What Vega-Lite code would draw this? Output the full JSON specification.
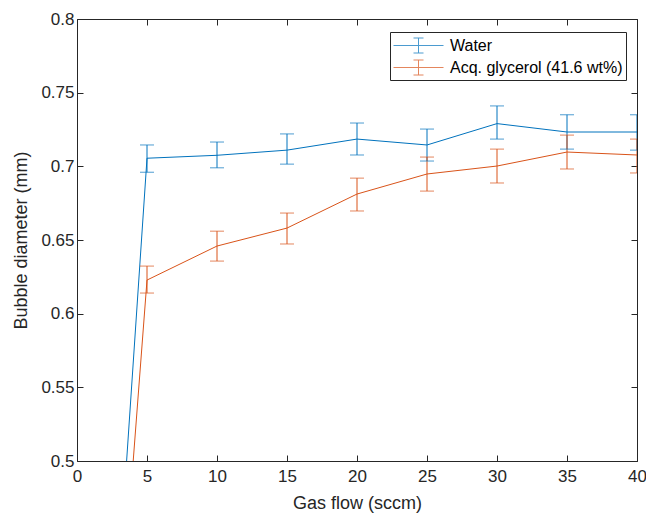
{
  "$schema": "https://vega.github.io/schema/vega-lite/v6.json",
  "width": 560,
  "height": 442,
  "autosize": {"type": "none"},
  "padding": {"left": 77, "top": 19, "right": 9, "bottom": 54},
  "background": "white",
  "config": {
    "font": "Liberation Sans",
    "view": {"stroke": null},
    "axis": {
      "grid": false,
      "domainColor": "#262626",
      "tickColor": "#262626",
      "labelColor": "#262626",
      "titleColor": "#262626",
      "labelFontSize": 17,
      "titleFontSize": 18,
      "titleFontWeight": "normal",
      "tickSize": -6,
      "labelFlush": false
    }
  },
  "resolve": {"axis": {"x": "independent", "y": "independent"}},
  "data": {
    "values": [
      {"series": "Water", "x": 0, "y": 0, "lo": 0, "hi": 0},
      {"series": "Water", "x": 5, "y": 0.7055, "lo": 0.696, "hi": 0.7145},
      {"series": "Water", "x": 10, "y": 0.7075, "lo": 0.699, "hi": 0.7165},
      {"series": "Water", "x": 15, "y": 0.711, "lo": 0.7015, "hi": 0.722},
      {"series": "Water", "x": 20, "y": 0.7185, "lo": 0.7077, "hi": 0.7294},
      {"series": "Water", "x": 25, "y": 0.7145, "lo": 0.7036, "hi": 0.7253},
      {"series": "Water", "x": 30, "y": 0.729, "lo": 0.7185, "hi": 0.741},
      {"series": "Water", "x": 35, "y": 0.7233, "lo": 0.7117, "hi": 0.735},
      {"series": "Water", "x": 40, "y": 0.7233, "lo": 0.711, "hi": 0.735},
      {"series": "Acq. glycerol (41.6 wt%)", "x": 0, "y": 0, "lo": 0, "hi": 0},
      {"series": "Acq. glycerol (41.6 wt%)", "x": 5, "y": 0.6228, "lo": 0.614, "hi": 0.6323},
      {"series": "Acq. glycerol (41.6 wt%)", "x": 10, "y": 0.6459, "lo": 0.6357, "hi": 0.656},
      {"series": "Acq. glycerol (41.6 wt%)", "x": 15, "y": 0.6581, "lo": 0.6473, "hi": 0.6683},
      {"series": "Acq. glycerol (41.6 wt%)", "x": 20, "y": 0.6812, "lo": 0.6697, "hi": 0.692},
      {"series": "Acq. glycerol (41.6 wt%)", "x": 25, "y": 0.6948, "lo": 0.6832, "hi": 0.7063},
      {"series": "Acq. glycerol (41.6 wt%)", "x": 30, "y": 0.7002, "lo": 0.6887, "hi": 0.7117},
      {"series": "Acq. glycerol (41.6 wt%)", "x": 35, "y": 0.7097, "lo": 0.6982, "hi": 0.7212},
      {"series": "Acq. glycerol (41.6 wt%)", "x": 40, "y": 0.7077, "lo": 0.6955, "hi": 0.7185}
    ]
  },
  "layer": [
    {
      "mark": {"type": "line", "opacity": 0, "clip": true},
      "encoding": {
        "x": {"field": "x", "type": "quantitative", "scale": {"domain": [0, 40]}, "axis": {"orient": "top", "labels": false, "title": null, "values": [0,5,10,15,20,25,30,35,40]}},
        "y": {"field": "y", "type": "quantitative", "scale": {"domain": [0.5, 0.8]}, "axis": {"orient": "right", "labels": false, "title": null, "values": [0.5,0.55,0.6,0.65,0.7,0.75,0.8]}},
        "detail": {"field": "series"}
      }
    },
    {
      "mark": {"type": "line", "clip": true, "strokeWidth": 1},
      "encoding": {
        "x": {"field": "x", "type": "quantitative", "scale": {"domain": [0, 40]}, "axis": {"title": "Gas flow (sccm)", "values": [0,5,10,15,20,25,30,35,40], "labelPadding": 13, "titlePadding": 10}},
        "y": {"field": "y", "type": "quantitative", "scale": {"domain": [0.5, 0.8]}, "axis": {"title": "Bubble diameter (mm)", "values": [0.5,0.55,0.6,0.65,0.7,0.75,0.8], "format": ".2~f", "labelPadding": 9, "titlePadding": 10}},
        "color": {
          "field": "series",
          "type": "nominal",
          "scale": {"domain": ["Water", "Acq. glycerol (41.6 wt%)"], "range": ["#0072BD", "#D95319"]},
          "legend": {
            "title": null,
            "orient": "none",
            "legendX": 313,
            "legendY": 13,
            "strokeColor": "#262626",
            "fillColor": "white",
            "padding": 3,
            "labelFontSize": 16,
            "labelLimit": 400,
            "labelColor": "#000000",
            "symbolType": "M-1,0H4M1.5,-0.75V0.75M1,-0.75H2M1,0.75H2",
            "symbolSize": 400,
            "symbolStrokeWidth": 1,
            "labelOffset": 36,
            "rowPadding": 2
          }
        }
      }
    },
    {
      "mark": {"type": "rule", "clip": true, "strokeWidth": 1},
      "encoding": {
        "x": {"field": "x", "type": "quantitative", "axis": null},
        "y": {"field": "lo", "type": "quantitative", "axis": null},
        "y2": {"field": "hi"},
        "color": {"field": "series", "type": "nominal"}
      }
    },
    {
      "mark": {"type": "tick", "clip": true, "orient": "horizontal", "size": 14, "thickness": 1},
      "encoding": {
        "x": {"field": "x", "type": "quantitative", "axis": null},
        "y": {"field": "lo", "type": "quantitative", "axis": null},
        "color": {"field": "series", "type": "nominal"}
      }
    },
    {
      "mark": {"type": "tick", "clip": true, "orient": "horizontal", "size": 14, "thickness": 1},
      "encoding": {
        "x": {"field": "x", "type": "quantitative", "axis": null},
        "y": {"field": "hi", "type": "quantitative", "axis": null},
        "color": {"field": "series", "type": "nominal"}
      }
    }
  ]
}
